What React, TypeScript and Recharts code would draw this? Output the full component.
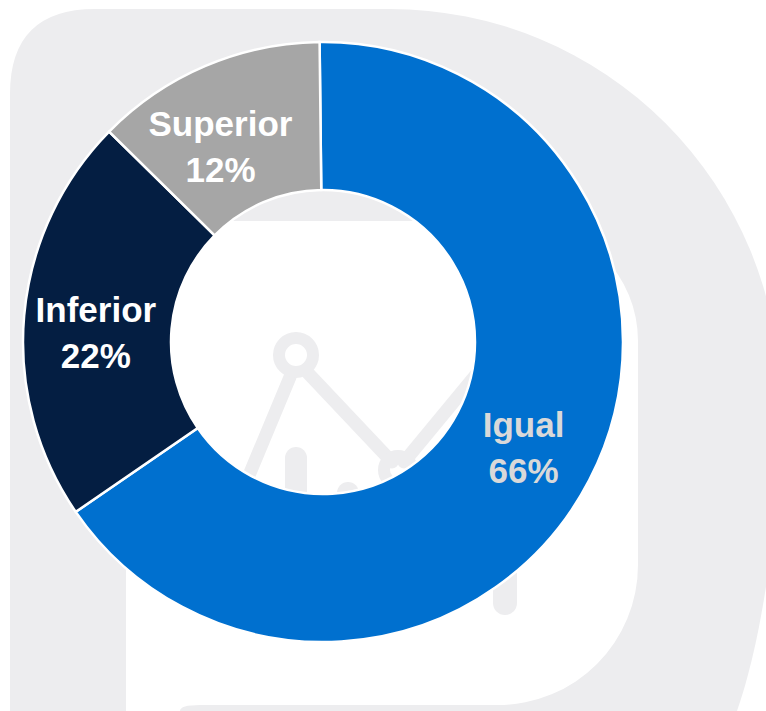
import { PieChart, Pie, Cell } from 'recharts';

const categories = ['Igual', 'Inferior', 'Superior'];
// shares; the labels round them to whole percent
const shares = [65.6, 21.95, 12.45];
const sliceColors = ['#0070CF', '#041E42', '#A6A6A6'];
const labelColors = ['#D9D9D9', '#FFFFFF', '#FFFFFF'];

// PowerPoint nudges the small-slice labels a bit off the mid angle
const labelNudge = [
  { dx: 0, dy: 2 },
  { dx: -2, dy: 11 },
  { dx: -14, dy: 13 },
];

const BG = '#EDEDEF';
const RAD = Math.PI / 180;

const rows = categories.map((name, i) => ({ name, value: shares[i] }));

function renderLabel(props: any) {
  const { cx, cy, midAngle, innerRadius, outerRadius, index } = props;
  const r = (innerRadius + outerRadius) / 2;
  const x = cx + r * Math.cos(-midAngle * RAD) + labelNudge[index].dx;
  const y = cy + r * Math.sin(-midAngle * RAD) + labelNudge[index].dy;
  return (
    <text
      x={x}
      y={y}
      textAnchor="middle"
      fill={labelColors[index]}
      fontFamily="'Liberation Sans', Arial, sans-serif"
      fontWeight={700}
      fontSize={35}
    >
      <tspan x={x} y={y - 11}>{categories[index]}</tspan>
      <tspan x={x} y={y + 35}>{Math.round(shares[index])}%</tspan>
    </text>
  );
}

function Backdrop() {
  return (
    <svg width={766} height={711} style={{ position: 'absolute', left: 0, top: 0 }}>
      <path d="M10,711 L10,94 Q10,9 95,9 L390,9 A390,391 0 0 1 780,400 C780,520 762,640 737,711 Z" fill={BG} />
      <path d="M126,711 L126,221 L518,221 A120,120 0 0 1 638,341 L638,565 A140,140 0 0 1 498,705 L200,705 Q180,705 180,711 Z" fill="#FFFFFF" />
      <g stroke={BG} strokeLinecap="round" fill="none">
        <path d="M290,377 L222,540" strokeWidth={13} />
        <path d="M307,372 L392,462" strokeWidth={13} />
        <path d="M404,462 L480,370" strokeWidth={13} />
        <circle cx={296} cy={355} r={17} strokeWidth={12} />
        <circle cx={398} cy={470} r={14} strokeWidth={12} />
        <path d="M296,458 L296,580" strokeWidth={22} />
        <path d="M348,493 L348,580" strokeWidth={22} />
        <path d="M505,540 L505,603" strokeWidth={24} />
      </g>
    </svg>
  );
}

export default function App() {
  return (
    <div style={{ position: 'absolute', left: 0, top: 0, width: 766, height: 711, overflow: 'hidden', background: '#FFFFFF' }}>
      <Backdrop />
      <div style={{ position: 'absolute', left: 0, top: 0 }}>
        <PieChart width={766} height={711} margin={{ top: 0, right: 0, bottom: 0, left: 0 }}>
          <Pie
            data={rows}
            dataKey="value"
            nameKey="name"
            cx={323}
            cy={342}
            innerRadius={152}
            outerRadius={300}
            startAngle={90.65}
            endAngle={-269.35}
            stroke="#FFFFFF"
            strokeWidth={2.5}
            label={renderLabel}
            labelLine={false}
            isAnimationActive={false}
          >
            {rows.map((r, i) => (
              <Cell key={r.name} fill={sliceColors[i]} />
            ))}
          </Pie>
        </PieChart>
      </div>
    </div>
  );
}
